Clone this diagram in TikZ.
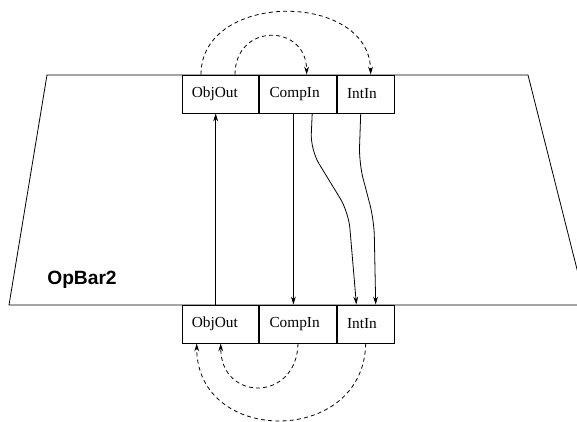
\documentclass[tikz,border=0pt]{standalone}
\usepackage{fontspec}
\setmainfont{Liberation Serif}
\setsansfont{Liberation Sans}
\usepackage{tikz}
\usetikzlibrary{arrows.meta,positioning,calc}

\begin{document}
\begin{tikzpicture}[
    x=0.75pt, y=-0.75pt,
    port/.style={rectangle, draw=black, line width=0.6pt, inner xsep=7.5pt, inner ysep=0pt, minimum height=28.5pt, align=left, font=\fontsize{11.5}{13}\selectfont},
    wide/.style={port, text width=42.6pt},
    narrow/.style={port, text width=28.2pt},
    arrow/.style={-{Stealth[length=6pt, width=3.6pt]}, line width=0.6pt},
    link/.style={arrow, dash pattern=on 3pt off 2.4pt},
    wire/.style={arrow, rounded corners=12pt}
]
    \clip (0,0) rectangle (577,421);

    % Operator bar outline
    \draw[line width=0.6pt] (47,75) -- (528,75) -- (586,305) -- (9,305) -- cycle;
    \node[font=\sffamily\bfseries\fontsize{14.4}{16}\selectfont] (title) at (82,280) {OpBar2};

    % Top ports
    \node[wide] (topObj) at (220.3,94) {ObjOut};
    \node[wide, right=0pt of topObj] (topComp) {CompIn};
    \node[narrow, right=0pt of topComp] (topInt) {IntIn};

    % Bottom ports
    \node[wide] (botObj) at (220.3,324) {ObjOut};
    \node[wide, right=0pt of botObj] (botComp) {CompIn};
    \node[narrow, right=0pt of botComp] (botInt) {IntIn};

    % Wires through the bar
    \draw[arrow] ($(botObj.north)+(-4.6,0)$) -- ($(topObj.south)+(-4.6,0)$);
    \draw[arrow] ($(topComp.south)+(-4.5,0)$) -- ($(botComp.north)+(-4.5,0)$);
    \draw[wire] ($(topComp.south)+(14.3,0)$) -- (310.6,150) -- (348.5,212) -- ($(botInt.north)+(-9.5,0)$);
    \draw[wire] ($(topInt.south)+(-5.2,0)$) -- (359,163) -- (374,220) -- ($(botInt.north)+(9.8,0)$);

    % Dashed links above
    \draw[link] ($(topObj.north)+(-19.3,0)$) .. controls (201,-9) and (369,-9) .. ($(topInt.north)+(4.8,0)$);
    \draw[link] ($(topObj.north)+(14.7,0)$) .. controls (235,23) and (306,23) .. ($(topComp.north)+(8.8,0)$);

    % Dashed links below
    \draw[link] ($(botComp.south)+(0.1,0)$) .. controls (297,402) and (221,402) .. ($(botObj.south)+(0.4,0)$);
    \draw[link] ($(botInt.south)+(-0.2,0)$) .. controls (364,446) and (197,446) .. ($(botObj.south)+(-23.6,0)$);
\end{tikzpicture}
\end{document}
